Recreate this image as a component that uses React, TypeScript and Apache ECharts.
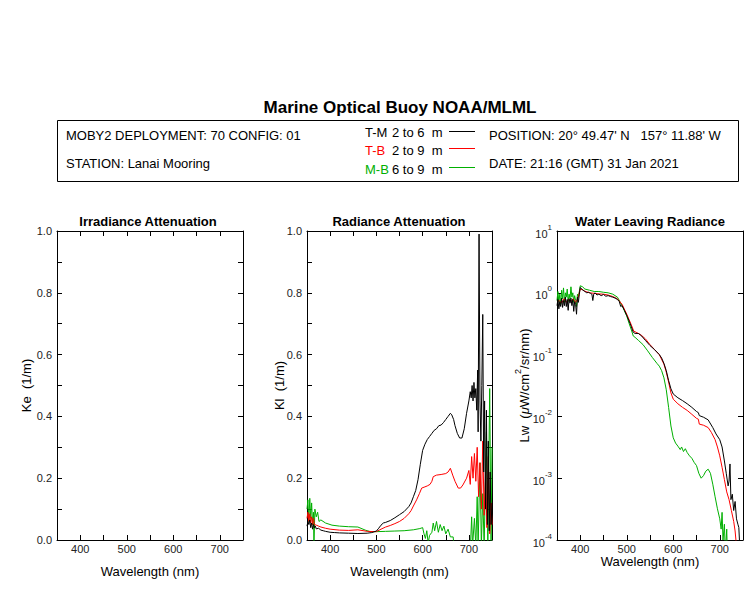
import React, { useEffect, useRef } from 'react';
import * as echarts from 'echarts';

const FONT = 'Liberation Sans, Arial, Helvetica, sans-serif';
const BLACK = '#000000';
const RED = '#ff0000';
const GREEN = '#00b000';

const xLabelValues = [400, 500, 600, 700];
const logLabelExps = [-4, -3, -2, -1, 0, 1];

// Radiance attenuation Kl (1/m): [wavelength nm, value]
const klTM: number[][] = [
  [350, 0.045], [352, 0.06], [354, 0.05], [356, 0.065], [358, 0.04], [360, 0.055], [362, 0.035], [364, 0.05],
  [366, 0.04], [368, 0.045], [370, 0.036], [375, 0.038], [380, 0.032], [385, 0.03], [390, 0.028], [400, 0.025],
  [410, 0.024], [420, 0.023], [440, 0.022], [460, 0.021], [480, 0.022], [490, 0.024], [500, 0.029], [505, 0.038],
  [510, 0.048], [515, 0.055], [520, 0.057], [530, 0.063], [540, 0.072], [550, 0.082], [560, 0.092], [570, 0.108],
  [575, 0.12], [580, 0.14], [585, 0.16], [590, 0.195], [595, 0.245], [600, 0.29], [605, 0.31], [610, 0.325],
  [615, 0.335], [620, 0.345], [625, 0.355], [630, 0.36], [635, 0.37], [640, 0.372], [645, 0.38], [650, 0.39],
  [655, 0.4], [660, 0.41], [663, 0.405], [667, 0.39], [670, 0.37], [675, 0.345], [680, 0.33], [685, 0.33],
  [690, 0.36], [695, 0.41], [700, 0.45], [703, 0.48], [705, 0.46], [707, 0.5], [709, 0.45], [711, 0.51],
  [713, 0.46], [715, 0.49], [717, 0.42], [719, 0.55], [720, 0.35], [722, 0.99], [724, 0.45], [726, 0.32],
  [728, 0.5], [730, 0.73], [732, 0.22], [734, 0.45], [736, 0.1], [738, 0.42], [740, 0.05], [742, 0.32],
  [744, 0.03], [746, 0.22], [748, 0.05], [750, 0.12],
];

const klTB: number[][] = [
  [350, 0.07], [352, 0.09], [354, 0.06], [356, 0.085], [358, 0.055], [360, 0.075], [362, 0.05], [364, 0.07],
  [366, 0.05], [370, 0.048], [375, 0.045], [380, 0.042], [390, 0.038], [400, 0.035], [420, 0.032], [440, 0.031],
  [460, 0.033], [480, 0.028], [500, 0.027], [510, 0.035], [520, 0.042], [530, 0.047], [540, 0.053], [550, 0.06],
  [560, 0.07], [570, 0.085], [575, 0.095], [580, 0.11], [587, 0.13], [593, 0.15], [598, 0.168], [605, 0.172],
  [610, 0.175], [616, 0.18], [620, 0.19], [623, 0.205], [630, 0.21], [640, 0.212], [650, 0.215], [655, 0.22],
  [660, 0.232], [665, 0.21], [670, 0.19], [677, 0.168], [682, 0.168], [687, 0.178], [695, 0.2], [700, 0.225],
  [703, 0.18], [706, 0.27], [709, 0.2], [712, 0.28], [715, 0.19], [718, 0.3], [721, 0.14], [724, 0.25],
  [727, 0.1], [730, 0.32], [733, 0.08], [736, 0.22], [739, 0.04], [742, 0.27], [745, 0.02], [748, 0.12],
  [750, 0.05],
];

const klMB: number[][] = [
  [350, 0.1], [352, 0.13], [354, 0.06], [356, 0.135], [358, 0.07], [360, 0.12], [362, 0.05], [364, 0.09],
  [365, -0.02], [367, 0.1], [370, 0.075], [373, 0.09], [376, 0.06], [380, 0.065], [390, 0.055], [404, 0.048],
  [420, 0.045], [440, 0.043], [460, 0.042], [476, 0.032], [487, 0.027], [500, 0.027], [520, 0.028], [540, 0.029],
  [560, 0.03], [580, 0.033], [594, 0.037], [600, 0.04], [603, 0.02], [606, 0.005], [609, 0.03], [612, -0.01],
  [615, 0.015], [620, 0.025], [623, 0.055], [626, 0.03], [630, 0.06], [634, 0.025], [638, 0.05], [642, 0.03],
  [646, 0.045], [650, 0.02], [655, 0.035], [660, 0.01], [666, 0.01], [670, -0.05], [700, -0.05], [704, 0.0],
  [706, 0.075], [708, -0.02], [712, 0.07], [715, -0.02], [718, 0.14], [720, -0.02], [724, 0.25], [727, -0.02],
  [730, 0.15], [733, -0.02], [738, 0.35], [741, -0.02], [745, 0.49], [748, -0.02], [750, 0.3],
];

// Water leaving radiance Lw (uW/cm^2/sr/nm)
const lwTM: number[][] = [
  [350, 0.62], [352, 0.78], [354, 0.55], [356, 0.72], [358, 0.6], [360, 0.82], [362, 0.58], [364, 0.75],
  [366, 0.62], [368, 0.85], [370, 0.6], [372, 0.78], [374, 0.52], [376, 0.8], [378, 0.68], [380, 0.82],
  [382, 0.62], [384, 0.78], [386, 0.5], [388, 0.72], [390, 0.65], [392, 0.45], [394, 0.85], [396, 0.7],
  [398, 0.95], [400, 1.22], [403, 1.15], [406, 1.1], [410, 1.05], [414, 1.0], [418, 1.02], [422, 0.98],
  [425, 0.95], [427, 0.75], [429, 0.95], [432, 1.0], [436, 0.92], [440, 0.95], [445, 0.9], [450, 0.94],
  [455, 0.88], [460, 0.9], [465, 0.87], [470, 0.85], [475, 0.82], [480, 0.78], [484, 0.72], [487, 0.6],
  [490, 0.62], [495, 0.52], [500, 0.43], [505, 0.35], [510, 0.28], [514, 0.23], [518, 0.22], [525, 0.22],
  [532, 0.2], [540, 0.17], [550, 0.14], [560, 0.12], [570, 0.1], [575, 0.088], [580, 0.072], [585, 0.055],
  [590, 0.038], [595, 0.028], [600, 0.023], [610, 0.02], [620, 0.018], [630, 0.016], [640, 0.014], [650, 0.012],
  [654, 0.0115], [656, 0.0103], [665, 0.0097], [675, 0.0088], [685, 0.0066], [692, 0.0052], [700, 0.0042],
  [705, 0.0032], [710, 0.0019], [714, 0.0012], [718, 0.00075], [720, 0.0009], [722, 0.0017], [724, 0.00045],
  [727, 0.00055], [730, 0.0003], [733, 0.00042], [736, 0.00022], [739, 0.00018], [741, 0.00016], [743, 0.00008],
  [745, 0.00006],
];

const lwTB: number[][] = [
  [350, 0.7], [355, 0.75], [360, 0.68], [365, 0.8], [370, 0.7], [375, 0.78], [380, 0.72], [385, 0.8],
  [390, 0.7], [395, 0.82], [400, 1.15], [405, 1.12], [410, 1.06], [420, 1.0], [430, 0.98], [440, 0.96],
  [450, 0.95], [460, 0.92], [470, 0.87], [480, 0.8], [490, 0.65], [500, 0.45], [510, 0.3], [515, 0.24],
  [520, 0.23], [530, 0.21], [540, 0.18], [550, 0.145], [560, 0.12], [570, 0.1], [580, 0.07], [585, 0.052],
  [590, 0.036], [595, 0.024], [600, 0.019], [610, 0.016], [620, 0.014], [630, 0.0125], [640, 0.0108],
  [650, 0.0093], [654, 0.009], [656, 0.0075], [665, 0.0072], [675, 0.0066], [682, 0.0055], [690, 0.0042],
  [695, 0.0032], [700, 0.0023], [705, 0.0015], [710, 0.00095], [715, 0.0006], [720, 0.00045], [725, 0.0003],
  [730, 0.0002], [733, 0.00014], [736, 0.00008],
];

const lwMB: number[][] = [
  [350, 0.75], [352, 1.05], [354, 0.7], [356, 0.95], [358, 0.65], [360, 1.1], [362, 0.8], [364, 1.2],
  [366, 0.7], [368, 1.0], [370, 0.85], [372, 1.15], [374, 0.72], [376, 0.95], [378, 0.8], [380, 1.25],
  [382, 0.85], [384, 1.0], [386, 0.7], [388, 0.9], [390, 0.75], [392, 0.6], [394, 0.95], [396, 0.85],
  [398, 1.05], [400, 1.3], [405, 1.25], [410, 1.15], [420, 1.1], [430, 1.05], [440, 1.05], [450, 1.02],
  [460, 1.0], [470, 0.95], [480, 0.85], [490, 0.62], [500, 0.42], [505, 0.32], [510, 0.25], [514, 0.2],
  [518, 0.19], [525, 0.17], [535, 0.145], [545, 0.115], [555, 0.09], [565, 0.072], [570, 0.065], [575, 0.055],
  [580, 0.042], [585, 0.027], [590, 0.014], [595, 0.007], [600, 0.0045], [605, 0.0037], [610, 0.0033],
  [615, 0.0029], [618, 0.0032], [622, 0.0027], [626, 0.003], [630, 0.0026], [635, 0.0023], [640, 0.0021],
  [645, 0.0018], [650, 0.0016], [655, 0.0012], [660, 0.001], [665, 0.0011], [670, 0.0013], [675, 0.0014],
  [680, 0.0012], [685, 0.0008], [690, 0.0005], [695, 0.00032], [700, 0.00022], [703, 0.00015], [705, 0.00028],
  [707, 0.0001], [710, 0.00018], [712, 0.00006], [715, 0.00015], [717, 0.00004],
];

const grids = [
  { left: 57, top: 231, width: 186, height: 309 },
  { left: 307, top: 231, width: 185, height: 309 },
  { left: 557, top: 231, width: 186, height: 309 },
];

const axisLine = { show: true, onZero: false, lineStyle: { color: BLACK, width: 1 } };
const tickStyle = { show: true, inside: true, length: 5, lineStyle: { color: BLACK, width: 1 } };
const labelStyle = { color: '#222', fontSize: 11, fontFamily: FONT };

function xAxesFor(gridIndex: number, nameGap: number, topTicks: boolean) {
  return [
    {
      type: 'value', gridIndex, min: 350, max: 750, interval: 50, position: 'bottom',
      axisLine, axisTick: tickStyle, splitLine: { show: false },
      axisLabel: {
        ...labelStyle, margin: 3,
        formatter: (v: number) => (xLabelValues.indexOf(Math.round(v)) >= 0 ? String(Math.round(v)) : ''),
      },
      name: 'Wavelength (nm)', nameLocation: 'middle', nameGap, nameMoveOverlap: false,
      nameTextStyle: { fontSize: 13, color: BLACK, fontFamily: FONT },
    },
    {
      type: 'value', gridIndex, min: 350, max: 750, interval: 50, position: 'top',
      axisLine, axisTick: { ...tickStyle, show: topTicks }, splitLine: { show: false },
      axisLabel: { show: false },
    },
  ];
}

function linYAxesFor(gridIndex: number, name: string, nameGap: number) {
  return [
    {
      type: 'value', gridIndex, min: 0, max: 1, interval: 0.1, position: 'left',
      axisLine, axisTick: tickStyle, splitLine: { show: false },
      axisLabel: {
        ...labelStyle, margin: 5,
        formatter: (v: number) => (Math.round(v * 10) % 2 === 0 ? v.toFixed(1) : ''),
      },
      name, nameLocation: 'middle', nameGap, nameMoveOverlap: false,
      nameTextStyle: { fontSize: 13, color: BLACK, fontFamily: FONT },
    },
    {
      type: 'value', gridIndex, min: 0, max: 1, interval: 0.1, position: 'right',
      axisLine, axisTick: tickStyle, splitLine: { show: false }, axisLabel: { show: false },
    },
  ];
}

function logYAxesFor(gridIndex: number, nameGap: number) {
  return [
    {
      type: 'log', logBase: 10, gridIndex, min: 0.0001, max: 10, position: 'left',
      axisLine, axisTick: tickStyle, splitLine: { show: false }, minorTick: { show: false },
      axisLabel: {
        ...labelStyle, margin: 5,
        formatter: (v: number) => {
          const e = Math.round(Math.log10(v));
          return logLabelExps.indexOf(e) >= 0 ? `{b|10}{s|${e}}` : '';
        },
        rich: {
          b: { fontSize: 11, color: '#222', fontFamily: FONT, verticalAlign: 'bottom', lineHeight: 16 },
          s: { fontSize: 8, color: '#222', fontFamily: FONT, verticalAlign: 'top', lineHeight: 8 },
        },
      },
      name: '{n|Lw  (}{m|\u03bc}{n|W/cm}{p|2}{n|/sr/nm)}', nameLocation: 'middle', nameGap,
      nameMoveOverlap: false,
      nameTextStyle: {
        fontSize: 13, color: BLACK, fontFamily: FONT,
        rich: {
          n: { fontSize: 13, color: BLACK, fontFamily: FONT, verticalAlign: 'bottom', lineHeight: 18 },
          m: { fontSize: 13, color: BLACK, fontFamily: FONT, fontStyle: 'italic', verticalAlign: 'bottom', lineHeight: 18 },
          p: { fontSize: 9, color: BLACK, fontFamily: FONT, verticalAlign: 'top', lineHeight: 9 },
        },
      },
    },
    {
      type: 'log', logBase: 10, gridIndex, min: 0.0001, max: 10, position: 'right',
      axisLine, axisTick: tickStyle, splitLine: { show: false }, minorTick: { show: false },
      axisLabel: { show: false },
    },
  ];
}

function lineSeries(data: number[][], color: string, xi: number, yi: number) {
  return {
    type: 'line', data, xAxisIndex: xi, yAxisIndex: yi, showSymbol: false, symbol: 'none',
    clip: true, lineStyle: { color, width: 1 }, itemStyle: { color }, z: color === BLACK ? 4 : 3,
  };
}

function txt(x: number, y: number, text: string, opts: any = {}) {
  return {
    type: 'text', x, y,
    style: {
      text, fill: opts.fill || BLACK,
      font: `${opts.bold ? 'bold ' : ''}${opts.size || 13}px ${FONT}`,
      textAlign: opts.align || 'left', align: opts.align || 'left',
      textVerticalAlign: 'middle', verticalAlign: 'middle',
    },
  };
}

export default function App() {
  const ref = useRef<HTMLDivElement>(null);
  useEffect(() => {
    if (!ref.current) return;
    const chart = echarts.init(ref.current, null, { renderer: 'svg' });
    const option: any = {
      animation: false,
      backgroundColor: '#ffffff',
      textStyle: { fontFamily: FONT },
      grid: grids,
      xAxis: [...xAxesFor(0, 25, true), ...xAxesFor(1, 25, true), ...xAxesFor(2, 15, false)],
      yAxis: [...linYAxesFor(0, 'Ke  (1/m)', 24), ...linYAxesFor(1, 'Kl  (1/m)', 21), ...logYAxesFor(2, 26)],
      series: [
        lineSeries(klMB, GREEN, 2, 2),
        lineSeries(klTB, RED, 2, 2),
        lineSeries(klTM, BLACK, 2, 2),
        lineSeries(lwMB, GREEN, 4, 4),
        lineSeries(lwTB, RED, 4, 4),
        lineSeries(lwTM, BLACK, 4, 4),
      ],
      graphic: [
        txt(400, 107, 'Marine Optical Buoy NOAA/MLML', { bold: true, size: 17, align: 'center' }),
        {
          type: 'rect', shape: { x: 57.5, y: 120.5, width: 681, height: 61 },
          style: { fill: 'none', stroke: BLACK, lineWidth: 1 },
        },
        txt(66, 135, 'MOBY2 DEPLOYMENT: 70 CONFIG: 01'),
        txt(66, 163, 'STATION: Lanai Mooring'),
        txt(365, 132, 'T-M'), txt(392, 132, '2 to 6  m'),
        txt(365, 150, 'T-B', { fill: RED }), txt(392, 150, '2 to 9  m'),
        txt(365, 169, 'M-B', { fill: GREEN }), txt(392, 169, '6 to 9  m'),
        { type: 'line', shape: { x1: 449, y1: 131.5, x2: 475, y2: 131.5 }, style: { stroke: BLACK, lineWidth: 1 } },
        { type: 'line', shape: { x1: 449, y1: 148.5, x2: 475, y2: 148.5 }, style: { stroke: RED, lineWidth: 1 } },
        { type: 'line', shape: { x1: 449, y1: 167.5, x2: 475, y2: 167.5 }, style: { stroke: GREEN, lineWidth: 1 } },
        txt(489, 135, "POSITION: 20\u00b0 49.47' N   157\u00b0 11.88' W"),
        txt(489, 163, 'DATE: 21:16 (GMT) 31 Jan 2021'),
        txt(148, 221, 'Irradiance Attenuation', { bold: true, size: 13, align: 'center' }),
        txt(399, 221, 'Radiance Attenuation', { bold: true, size: 13, align: 'center' }),
        txt(650, 221, 'Water Leaving Radiance', { bold: true, size: 13, align: 'center' }),
      ],
    };
    chart.setOption(option);
    return () => chart.dispose();
  }, []);
  return (
    <div
      ref={ref}
      style={{ position: 'absolute', left: 0, top: 0, width: 750, height: 600, background: '#fff' }}
    />
  );
}
